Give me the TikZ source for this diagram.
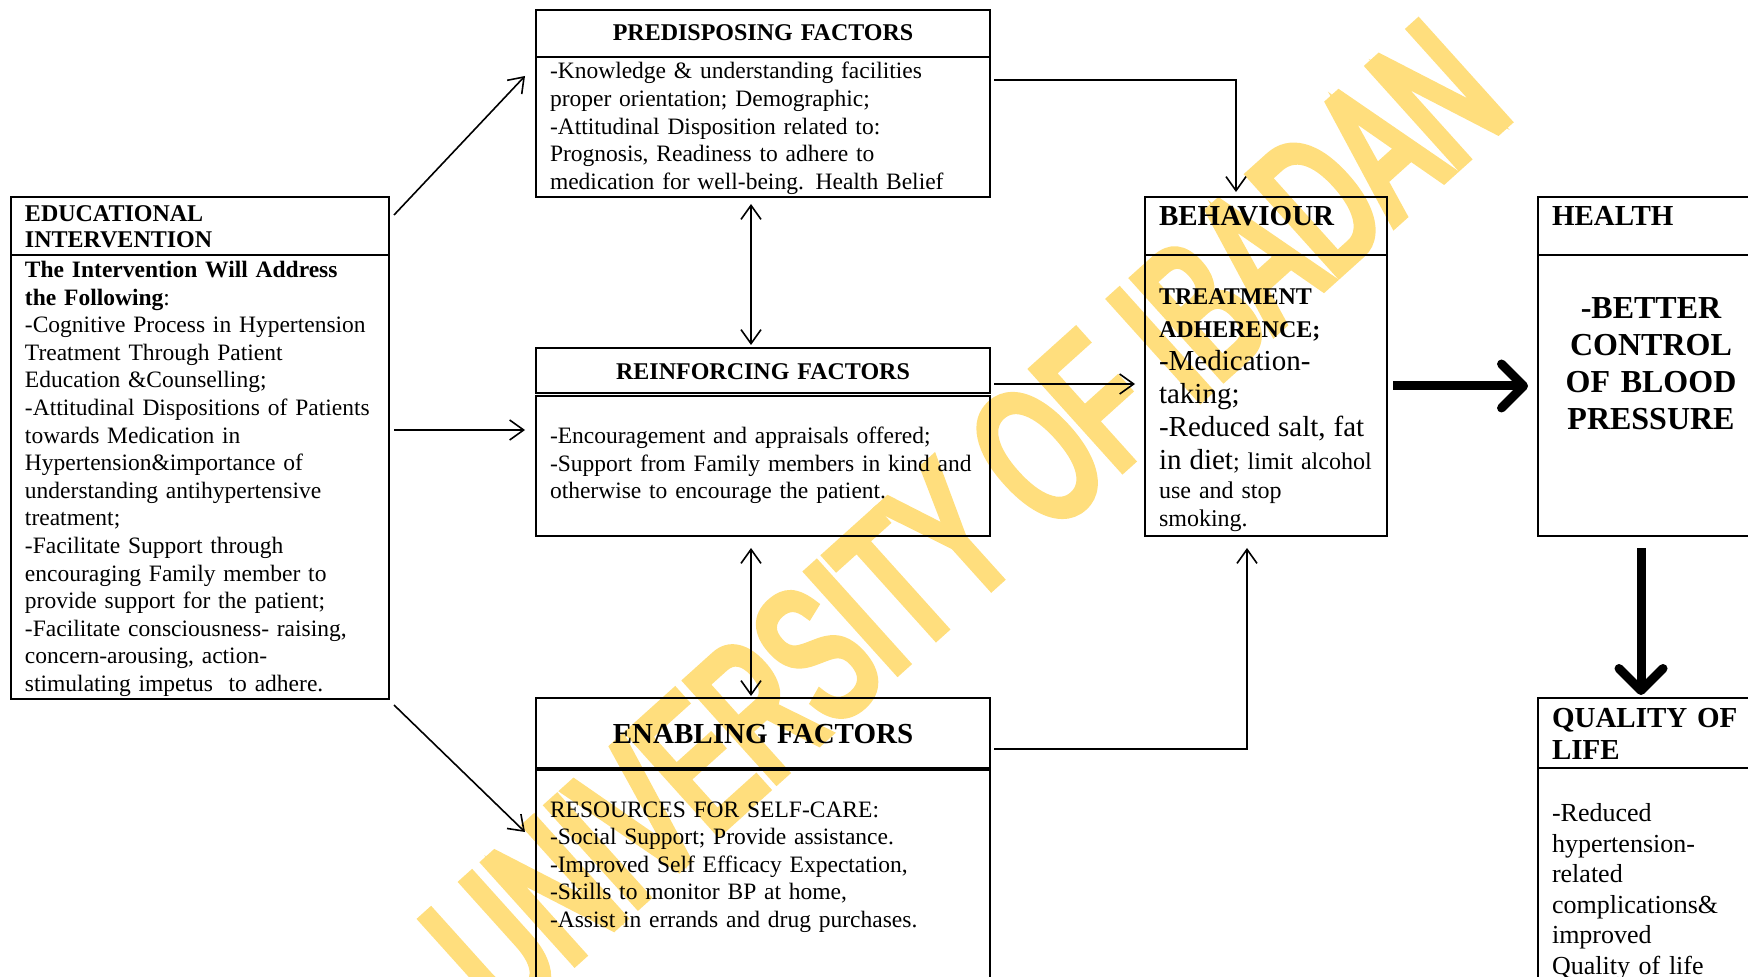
\documentclass[tikz,border=0pt]{standalone}
\usepackage{fontspec}
\setmainfont{Liberation Serif}
\newfontfamily\stampfont[FakeStretch=0.6, FakeBold=4.5]{Liberation Sans}
\usepackage{tikz}
\usetikzlibrary{arrows.meta}
\usetikzlibrary{positioning,calc}
\definecolor{stampyellow}{RGB}{255,222,125}
\tikzset{
    box/.style={
        draw,
        rectangle,
        line width=1pt,
        anchor=north west,
        inner xsep=7pt,
        inner ysep=0pt,
        align=left,
        font=\fontsize{11.75}{13.8}\selectfont
    },
    head/.style={
        box,
        font=\bfseries\fontsize{12}{13}\selectfont
    },
    link/.style={
        draw,
        -{Straight Barb[length=7pt, width=10pt]},
        line width=0.8pt
    },
    twoway/.style={
        link,
        {Straight Barb[length=7pt, width=10pt]}-{Straight Barb[length=7pt, width=10pt]}
    },
    bigarrow/.style={
        draw,
        -{Straight Barb[length=11pt, width=22pt, round]},
        line width=4.5pt
    }
}

\begin{document}
\begin{tikzpicture}[x=0.5pt, y=-0.5pt]
    \useasboundingbox (0,0) rectangle (1748,977);

    % watermark
    \node[text=stampyellow, rotate=42, anchor=base, inner sep=0pt, font=\stampfont\fontsize{97}{97}\selectfont] (stamp) at (1010,570) {UNIVERSITY OF IBADAN};

    % educational intervention
    \node[head, text width=175pt, text height=12.5pt, text depth=16.5pt] (eduH) at (10,196) {EDUCATIONAL\\INTERVENTION};
    \node[box, text width=175pt, text height=11.25pt, text depth=210.75pt] (eduB) at (10,254) {\textbf{The Intervention Will Address}\\
        \textbf{the Following}:\\
        -Cognitive Process in Hypertension\\
        Treatment Through Patient\\
        Education \&Counselling;\\
        -Attitudinal Dispositions of Patients\\
        towards Medication in\\
        Hypertension\&importance of\\
        understanding antihypertensive\\
        treatment;\\
        -Facilitate Support through\\
        encouraging Family member to\\
        provide support for the patient;\\
        -Facilitate consciousness- raising,\\
        concern-arousing, action-\\
        stimulating impetus\ \ to adhere.};

    % predisposing, reinforcing, enabling
    \node[head, align=center, text width=213pt, text height=15.5pt, text depth=8pt] (preH) at (535,9) {PREDISPOSING FACTORS};
    \node[box, text width=213pt, text height=11pt, text depth=59pt] (preB) at (535,56) {-Knowledge \& understanding facilities\\
        proper orientation; Demographic;\\
        -Attitudinal Disposition related to:\\
        Prognosis, Readiness to adhere to\\
        medication for well-being. Health Belief};

    \node[head, align=center, text width=213pt, text height=16pt, text depth=6.5pt] (reinH) at (535,347) {REINFORCING FACTORS};
    \node[box, text width=213pt, text height=23.8pt, text depth=46.2pt] (reinB) at (535,395) {-Encouragement and appraisals offered;\\
        -Support from Family members in kind and\\
        otherwise to encourage the patient.};

    \node[head, align=center, text width=213pt, text height=22.75pt, text depth=12.25pt, font=\bfseries\fontsize{14.5}{16}\selectfont] (enabH) at (535,697) {ENABLING FACTORS};
    \node[box, text width=213pt, text height=23.5pt, text depth=86.5pt] (enabB) at (535,769) {RESOURCES FOR SELF-CARE:\\
        -Social Support; Provide assistance.\\
        -Improved Self Efficacy Expectation,\\
        -Skills to monitor BP at home,\\
        -Assist in errands and drug purchases.};

    % behaviour
    \node[head, text width=107pt, text height=14.5pt, text depth=14.5pt, font=\bfseries\fontsize{14.5}{16}\selectfont] (behH) at (1144,196) {BEHAVIOUR};
    \node[box, text width=107pt, text height=25pt, text depth=115.5pt, font=\fontsize{12}{16.5}\selectfont] (behB) at (1144,254) {\textbf{TREATMENT}\\
        \textbf{ADHERENCE;}\\
        {\fontsize{14.5}{16.5}\selectfont -Medication-}\\
        {\fontsize{14.5}{16.5}\selectfont taking;}\\
        {\fontsize{14.5}{16.5}\selectfont -Reduced salt, fat}\\
        {\fontsize{14.5}{16.5}\selectfont in diet}; limit alcohol\\[-2.1pt]
        use and stop\\[-2.5pt]
        smoking.};

    % health and quality of life
    \node[head, text width=99pt, text height=14.5pt, text depth=14.5pt, font=\bfseries\fontsize{14.5}{16}\selectfont] (healthH) at (1537,196) {HEALTH};
    \node[box, align=center, text width=99pt, text height=32pt, text depth=108.5pt, font=\bfseries\fontsize{16}{18.4}\selectfont] (healthB) at (1537,254) {-BETTER\\CONTROL\\OF BLOOD\\PRESSURE};

    \node[head, text width=99pt, text height=14.5pt, text depth=20.5pt, font=\bfseries\fontsize{14.5}{16}\selectfont] (qolH) at (1537,697) {QUALITY OF\\LIFE};
    \node[box, text width=99pt, text height=26.75pt, text depth=90pt, font=\fontsize{13}{15.3}\selectfont] (qolB) at (1537,767) {-Reduced\\
        hypertension-\\
        related\\
        complications\&\\
        improved\\
        Quality of life};

    \draw[link] ($(eduH.north east)+(4,19)$) -- ($(preB.north west)+(-10,20)$);
    \draw[link] ($(eduB.north east)+(4,176)$) -- ($(reinB.north west)+(-10,35)$);
    \draw[link] ($(eduB.south east)+(4,5)$) -- ($(enabB.north west)+(-10,63)$);
    \draw[twoway] ($(preB.south)+(-12,6)$) -- ($(reinH.north)+(-12,-2)$);
    \draw[twoway] ($(reinB.south)+(-12,11)$) -- ($(enabH.north)+(-12,-1)$);
    \draw[link] ($(preB.north east)+(3,24)$) -| ($(behH.north)+(-30,-4)$);
    \draw[link] ($(reinH.south east)+(3,-10)$) -- ($(reinH.south east -| behB.west)+(-9,-10)$);
    \draw[link] ($(enabH.south east)+(3,-20)$) -| ($(behB.south)+(-19,11)$);
    \draw[bigarrow] ($(behB.north east)+(5,132)$) -- ($(behB.north east -| healthB.west)+(-9,132)$);
    \draw[bigarrow] ($(healthB.south)+(-10,11)$) -- ($(qolH.north)+(-10,-2)$);
\end{tikzpicture}
\end{document}
